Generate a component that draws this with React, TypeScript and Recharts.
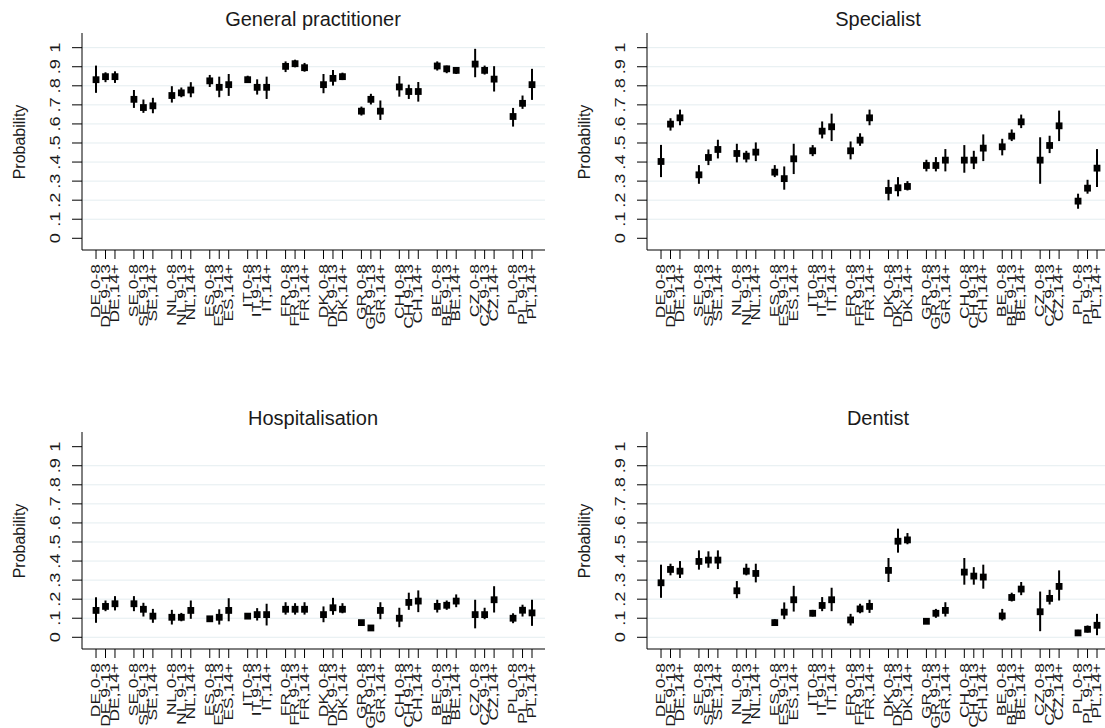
import React from 'react';
import { ComposedChart, Scatter, XAxis, YAxis, ErrorBar, ReferenceLine } from 'recharts';

const countries = ['DE', 'SE', 'NL', 'ES', 'IT', 'FR', 'DK', 'GR', 'CH', 'BE', 'CZ', 'PL'];
const ageGroups = ['0-8', '9-13', '14+'];
const tickLabels = countries.flatMap((c) => ageGroups.map((a) => `${c},${a}`));
const positions = countries.flatMap((c, i) => ageGroups.map((a, j) => i * 4 + j));

const yTicks = [0, 0.1, 0.2, 0.3, 0.4, 0.5, 0.6, 0.7, 0.8, 0.9, 1];
const yTickLabels = ['0', '.1', '.2', '.3', '.4', '.5', '.6', '.7', '.8', '.9', '1'];

const gpMean = [0.832, 0.848, 0.848, 0.729, 0.686, 0.695, 0.749, 0.763, 0.778, 0.826, 0.792, 0.806, 0.832, 0.792, 0.792, 0.902, 0.916, 0.895, 0.806, 0.839, 0.848, 0.667, 0.729, 0.667, 0.794, 0.770, 0.770, 0.904, 0.889, 0.881, 0.914, 0.881, 0.835, 0.639, 0.708, 0.806];
const gpLow = [0.763, 0.819, 0.815, 0.684, 0.658, 0.656, 0.712, 0.740, 0.740, 0.794, 0.740, 0.747, 0.815, 0.754, 0.731, 0.872, 0.897, 0.874, 0.761, 0.801, 0.830, 0.644, 0.702, 0.621, 0.743, 0.731, 0.717, 0.880, 0.866, 0.862, 0.845, 0.859, 0.770, 0.586, 0.679, 0.726];
const gpHigh = [0.906, 0.871, 0.876, 0.778, 0.728, 0.737, 0.798, 0.791, 0.819, 0.857, 0.848, 0.862, 0.853, 0.834, 0.848, 0.928, 0.937, 0.920, 0.862, 0.883, 0.869, 0.691, 0.758, 0.723, 0.851, 0.806, 0.820, 0.928, 0.906, 0.897, 0.994, 0.906, 0.903, 0.684, 0.749, 0.889];

const spMean = [0.403, 0.599, 0.632, 0.333, 0.424, 0.466, 0.445, 0.431, 0.452, 0.347, 0.313, 0.417, 0.459, 0.562, 0.585, 0.459, 0.515, 0.632, 0.251, 0.265, 0.272, 0.382, 0.382, 0.410, 0.410, 0.410, 0.473, 0.480, 0.536, 0.611, 0.410, 0.487, 0.590, 0.195, 0.263, 0.368];
const spLow = [0.321, 0.565, 0.593, 0.286, 0.384, 0.419, 0.398, 0.398, 0.405, 0.321, 0.255, 0.337, 0.431, 0.524, 0.510, 0.414, 0.485, 0.593, 0.199, 0.220, 0.251, 0.351, 0.351, 0.351, 0.344, 0.363, 0.405, 0.435, 0.510, 0.578, 0.286, 0.447, 0.510, 0.155, 0.234, 0.269];
const spHigh = [0.490, 0.630, 0.675, 0.384, 0.466, 0.517, 0.496, 0.459, 0.503, 0.384, 0.377, 0.496, 0.489, 0.613, 0.654, 0.508, 0.551, 0.675, 0.307, 0.321, 0.300, 0.412, 0.426, 0.468, 0.489, 0.459, 0.545, 0.522, 0.571, 0.649, 0.530, 0.538, 0.670, 0.234, 0.307, 0.468];

const hoMean = [0.141, 0.162, 0.176, 0.176, 0.147, 0.111, 0.105, 0.105, 0.141, 0.097, 0.105, 0.141, 0.111, 0.119, 0.119, 0.147, 0.147, 0.147, 0.119, 0.155, 0.147, 0.077, 0.049, 0.141, 0.100, 0.183, 0.190, 0.162, 0.168, 0.190, 0.119, 0.119, 0.197, 0.100, 0.142, 0.128];
const hoLow = [0.076, 0.137, 0.141, 0.137, 0.109, 0.076, 0.067, 0.084, 0.097, 0.084, 0.067, 0.084, 0.097, 0.088, 0.062, 0.119, 0.119, 0.119, 0.079, 0.118, 0.126, 0.067, 0.035, 0.095, 0.053, 0.144, 0.132, 0.130, 0.144, 0.158, 0.047, 0.095, 0.130, 0.074, 0.109, 0.060];
const hoHigh = [0.210, 0.193, 0.216, 0.216, 0.181, 0.149, 0.144, 0.128, 0.193, 0.111, 0.147, 0.205, 0.123, 0.153, 0.176, 0.184, 0.179, 0.184, 0.162, 0.207, 0.179, 0.088, 0.062, 0.184, 0.155, 0.234, 0.246, 0.197, 0.193, 0.225, 0.197, 0.155, 0.268, 0.126, 0.171, 0.197];

const deMean = [0.286, 0.356, 0.347, 0.398, 0.405, 0.405, 0.244, 0.347, 0.335, 0.077, 0.132, 0.197, 0.126, 0.167, 0.197, 0.091, 0.149, 0.162, 0.351, 0.504, 0.511, 0.084, 0.126, 0.141, 0.342, 0.321, 0.316, 0.112, 0.209, 0.253, 0.134, 0.204, 0.267, 0.023, 0.042, 0.063];
const deLow = [0.207, 0.325, 0.311, 0.355, 0.365, 0.358, 0.205, 0.325, 0.288, 0.060, 0.095, 0.135, 0.109, 0.137, 0.137, 0.062, 0.126, 0.128, 0.290, 0.444, 0.488, 0.070, 0.102, 0.109, 0.276, 0.276, 0.255, 0.088, 0.188, 0.221, 0.032, 0.172, 0.193, 0.007, 0.025, 0.011];
const deHigh = [0.381, 0.386, 0.400, 0.456, 0.451, 0.456, 0.295, 0.386, 0.386, 0.095, 0.183, 0.270, 0.144, 0.211, 0.260, 0.123, 0.176, 0.197, 0.416, 0.570, 0.547, 0.097, 0.149, 0.184, 0.416, 0.368, 0.381, 0.149, 0.234, 0.290, 0.240, 0.249, 0.351, 0.039, 0.062, 0.123];

const topGrid = [0.1, 0.2, 0.3, 0.4, 0.5, 0.6, 0.7, 0.8, 0.9, 1];
const bottomGrid = [0, 0.1, 0.2, 0.3, 0.4, 0.5, 0.6, 0.7, 0.8, 0.9];

const FONT = '"Liberation Sans", Arial, Helvetica, sans-serif';
const TEXT = '#1a1a1a';

function buildData(mean: number[], low: number[], high: number[]) {
  return mean.map((v, k) => ({ x: positions[k], v, err: [v - low[k], high[k] - v] }));
}

const labelByPos: Record<number, string> = {};
positions.forEach((p, k) => {
  labelByPos[p] = tickLabels[k];
});

const W = 560;
const H = 364;

const YTick = (props: any) => {
  const { y, payload } = props;
  const idx = yTicks.indexOf(payload.value);
  const lbl = idx >= 0 ? yTickLabels[idx] : String(payload.value);
  return (
    <g transform={`translate(55 ${y}) rotate(-90) scale(1.3 1)`}>
      <text x={0} y={0} textAnchor="middle" dy="0.35em" fontSize={14} fill={TEXT} fontFamily={FONT}>
        {lbl}
      </text>
    </g>
  );
};

const XTick = (props: any) => {
  const { x, payload } = props;
  return (
    <g transform={`translate(${x} 264) rotate(-90) scale(1.45 1)`}>
      <text x={0} y={0} textAnchor="end" dy="0.35em" fontSize={12} fill={TEXT} fontFamily={FONT}>
        {labelByPos[payload.value]}
      </text>
    </g>
  );
};

const Square = (props: any) => {
  const { cx, cy } = props;
  if (cx == null || cy == null) return null;
  const s = 6.8;
  return <rect x={cx - s / 2} y={cy - s / 2} width={s} height={s} fill="#000" />;
};

function Panel({ title, data, grid, left, top }: { title: string; data: any[]; grid: number[]; left: number; top: number }) {
  return (
    <div style={{ position: 'absolute', left, top, width: W, height: H }}>
      <ComposedChart width={W} height={H} data={data} margin={{ top: 33, right: 15, bottom: 14, left: 0 }}>
        {grid.map((g) => (
          <ReferenceLine key={g} y={g} stroke="#e4edf0" strokeWidth={1} />
        ))}
        <XAxis
          type="number"
          dataKey="x"
          domain={[-1.48, 47.37]}
          ticks={positions}
          interval={0}
          allowDataOverflow
          height={100}
          tickSize={9}
          axisLine={{ stroke: '#000', strokeWidth: 1 }}
          tickLine={{ stroke: '#000', strokeWidth: 1 }}
          tick={<XTick />}
        />
        <YAxis
          type="number"
          dataKey="v"
          domain={[-0.0614, 1.077]}
          ticks={yTicks}
          interval={0}
          allowDataOverflow
          width={82}
          tickSize={10}
          axisLine={{ stroke: '#000', strokeWidth: 1 }}
          tickLine={{ stroke: '#000', strokeWidth: 1 }}
          tick={<YTick />}
        />
        <Scatter data={data} dataKey="v" shape={<Square />} isAnimationActive={false}>
          <ErrorBar dataKey="err" direction="y" width={0} stroke="#000" strokeWidth={2} isAnimationActive={false} />
        </Scatter>
      </ComposedChart>
      <svg width={W} height={H} style={{ position: 'absolute', left: 0, top: 0, pointerEvents: 'none' }}>
        <text x={313} y={19} textAnchor="middle" dominantBaseline="central" fontSize={20} fill={TEXT} fontFamily={FONT}>
          {title}
        </text>
        <text x={19} y={142} transform="rotate(-90 19 142)" textAnchor="middle" dominantBaseline="central" fontSize={16} fill={TEXT} fontFamily={FONT}>
          Probability
        </text>
      </svg>
    </div>
  );
}

export default function App() {
  return (
    <div style={{ position: 'absolute', left: 0, top: 0, width: 1105, height: 728, overflow: 'hidden', background: '#fff' }}>
      <Panel title="General practitioner" data={buildData(gpMean, gpLow, gpHigh)} grid={topGrid} left={0} top={0} />
      <Panel title="Specialist" data={buildData(spMean, spLow, spHigh)} grid={topGrid} left={565} top={0} />
      <Panel title="Hospitalisation" data={buildData(hoMean, hoLow, hoHigh)} grid={bottomGrid} left={0} top={399} />
      <Panel title="Dentist" data={buildData(deMean, deLow, deHigh)} grid={bottomGrid} left={565} top={399} />
    </div>
  );
}
